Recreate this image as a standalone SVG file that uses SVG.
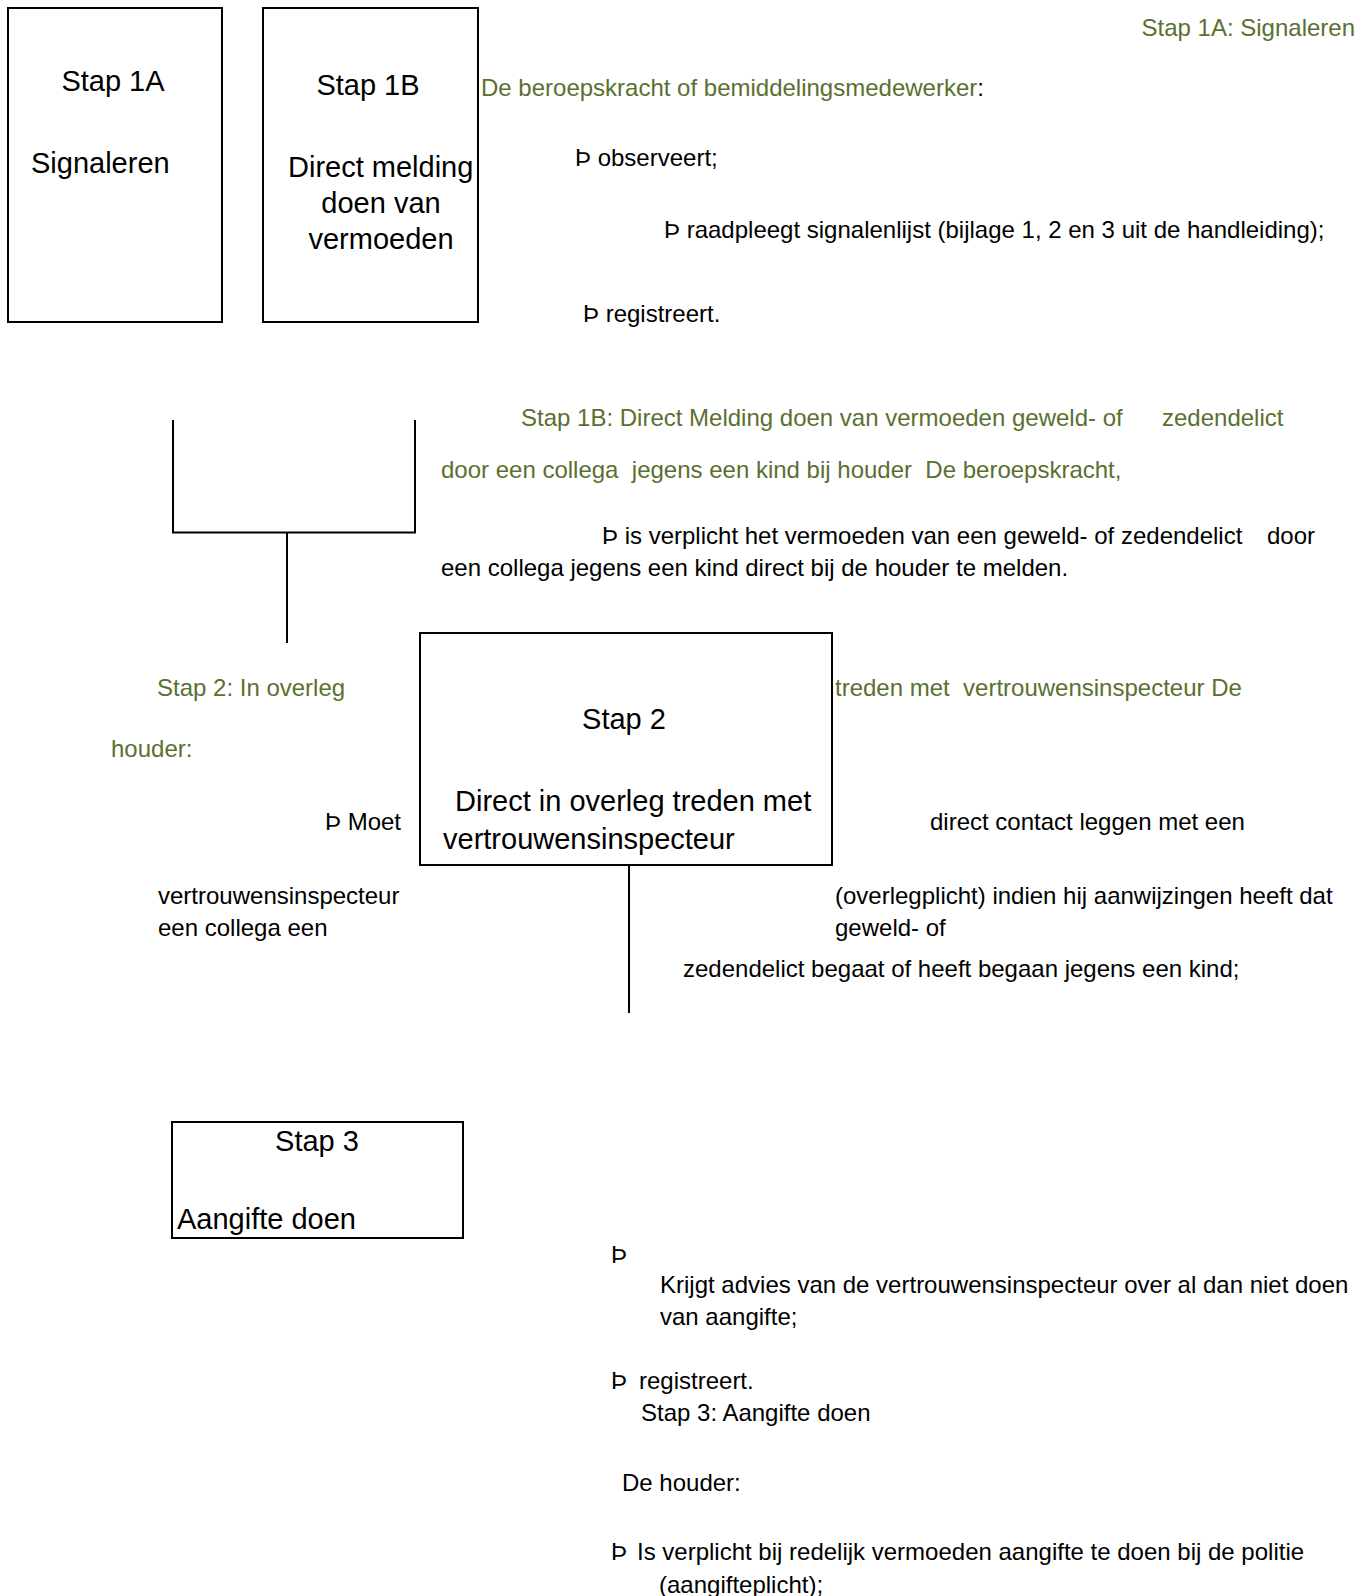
<svg xmlns="http://www.w3.org/2000/svg" width="1367" height="1596" viewBox="0 0 1367 1596">
<style>
.box{fill:#fff;stroke:#000;stroke-width:2}
.t{font-family:"Liberation Sans",Arial,sans-serif;font-size:29px;fill:#000;white-space:pre}
.b{font-family:"Liberation Sans",Arial,sans-serif;font-size:24px;fill:#000;white-space:pre}
.g{fill:#5a7030}
.ln{stroke:#000;stroke-width:2;fill:none}
</style>
<rect width="1367" height="1596" fill="#fff"/>
<g id="stap1a">
<rect class="box" x="8" y="8" width="214" height="314"/>
<text class="t" x="113" y="91" text-anchor="middle">Stap 1A</text>
<text class="t" x="31" y="173">Signaleren</text>
</g>
<g id="stap1b">
<rect class="box" x="263" y="8" width="215" height="314"/>
<text class="t" x="368" y="95" text-anchor="middle">Stap 1B</text>
<text class="t" x="288" y="177">Direct melding</text>
<text class="t" x="381" y="213" text-anchor="middle">doen van</text>
<text class="t" x="381" y="249" text-anchor="middle">vermoeden</text>
</g>
<g id="stap2">
<rect class="box" x="420" y="633" width="412" height="232"/>
<text class="t" x="624" y="729" text-anchor="middle">Stap 2</text>
<text class="t" x="455" y="811">Direct in overleg treden met</text>
<text class="t" x="443" y="849">vertrouwensinspecteur</text>
</g>
<g id="stap3">
<rect class="box" x="172" y="1122" width="291" height="116"/>
<text class="t" x="317" y="1151" text-anchor="middle">Stap 3</text>
<text class="t" x="177" y="1229">Aangifte doen</text>
</g>
<g id="connectors">
<path class="ln" d="M173 420V532.5H415V420M287 532.5V643"/>
<path class="ln" d="M629 865V1013"/>
</g>
<g id="texts">
<text class="b g" x="1355" y="36" text-anchor="end">Stap 1A: Signaleren</text>
<text class="b" x="481" y="96"><tspan class="g">De beroepskracht of bemiddelingsmedewerker</tspan>:</text>
<text class="b" x="575" y="166">Þ observeert;</text>
<text class="b" x="664" y="238">Þ raadpleegt signalenlijst (bijlage 1, 2 en 3 uit de handleiding);</text>
<text class="b" x="583" y="322">Þ registreert.</text>
<text class="b g" x="521" y="426">Stap 1B: Direct Melding doen van vermoeden geweld- of</text>
<text class="b g" x="1162" y="426">zedendelict</text>
<text class="b g" x="441" y="478">door een collega  jegens een kind bij houder  De beroepskracht,</text>
<text class="b" x="602" y="544">Þ is verplicht het vermoeden van een geweld- of zedendelict</text>
<text class="b" x="1267" y="544">door</text>
<text class="b" x="441" y="576">een collega jegens een kind direct bij de houder te melden.</text>
<text class="b g" x="157" y="696">Stap 2: In overleg</text>
<text class="b g" x="835" y="696">treden met  vertrouwensinspecteur De</text>
<text class="b g" x="111" y="757">houder:</text>
<text class="b" x="325" y="830">Þ Moet</text>
<text class="b" x="930" y="830">direct contact leggen met een</text>
<text class="b" x="158" y="904">vertrouwensinspecteur</text>
<text class="b" x="158" y="936">een collega een</text>
<text class="b" x="835" y="904">(overlegplicht) indien hij aanwijzingen heeft dat</text>
<text class="b" x="835" y="936">geweld- of</text>
<text class="b" x="683" y="977">zedendelict begaat of heeft begaan jegens een kind;</text>
<text class="b" x="611" y="1263">Þ</text>
<text class="b" x="660" y="1293">Krijgt advies van de vertrouwensinspecteur over al dan niet doen</text>
<text class="b" x="660" y="1325">van aangifte;</text>
<text class="b" x="611" y="1389">Þ</text>
<text class="b" x="639" y="1389">registreert.</text>
<text class="b" x="641" y="1421">Stap 3: Aangifte doen</text>
<text class="b" x="622" y="1491">De houder:</text>
<text class="b" x="611" y="1560">Þ</text>
<text class="b" x="637" y="1560">Is verplicht bij redelijk vermoeden aangifte te doen bij de politie</text>
<text class="b" x="659" y="1593">(aangifteplicht);</text>
</g>
</svg>
